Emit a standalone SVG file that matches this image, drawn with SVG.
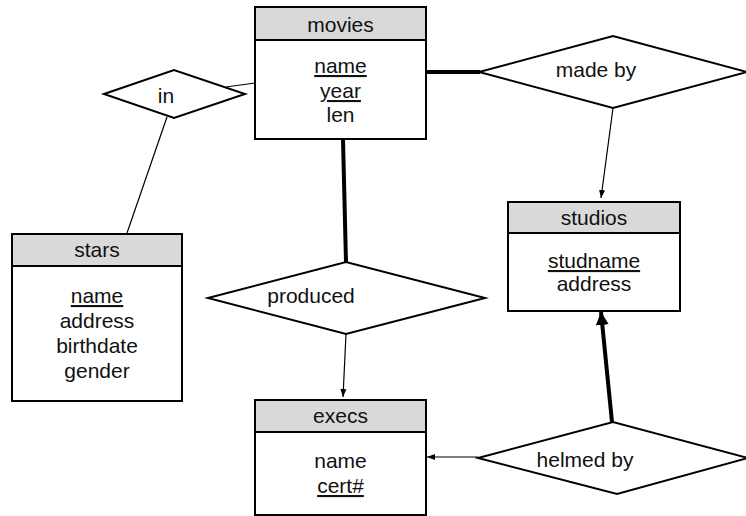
<svg xmlns="http://www.w3.org/2000/svg" width="746" height="516" viewBox="0 0 746 516">
  <style>
    .box { fill: #ffffff; stroke: #000000; stroke-width: 2; }
    .head { fill: #d9d9d9; stroke: #000000; stroke-width: 2; }
    .rel { fill: #ffffff; stroke: #000000; stroke-width: 2; }
    text { font-family: "Liberation Sans", Arial, sans-serif; font-size: 21px; fill: #111111; text-anchor: middle; }
    .key { text-decoration: underline; }
    .thin { stroke: #000000; stroke-width: 1.2; fill: none; }
    .thick { stroke: #000000; stroke-width: 4; fill: none; }
  </style>
  <defs>
    <marker id="arrowSmall" markerUnits="userSpaceOnUse" markerWidth="8" markerHeight="8" viewBox="0 0 8 8" refX="8" refY="4" orient="auto">
      <path d="M0,1 L8,4 L0,7 Z" fill="#000000"/>
    </marker>
    <marker id="arrowBig" markerUnits="userSpaceOnUse" markerWidth="14" markerHeight="14" viewBox="0 0 14 14" refX="13" refY="7" orient="auto">
      <path d="M0,0.5 L13,7 L0,13.5 Z" fill="#000000"/>
    </marker>
  </defs>

  <!-- connectors -->
  <g id="connectors">
    <line class="thin" x1="226" y1="87" x2="255" y2="83"/>
    <line class="thin" x1="167" y1="117" x2="127" y2="233"/>
    <line class="thick" x1="426" y1="72" x2="480" y2="72"/>
    <line class="thin" x1="613" y1="108" x2="601" y2="198" marker-end="url(#arrowSmall)"/>
    <line class="thick" x1="343" y1="140" x2="346" y2="262"/>
    <line class="thin" x1="346" y1="334" x2="343" y2="397" marker-end="url(#arrowSmall)"/>
    <line class="thin" x1="478" y1="457" x2="427" y2="457" marker-end="url(#arrowSmall)"/>
    <line class="thick" x1="612" y1="422" x2="601" y2="312" marker-end="url(#arrowBig)"/>
  </g>

  <!-- entity: movies -->
  <g id="movies">
    <rect class="box" x="255" y="7" width="171" height="132"/>
    <rect class="head" x="255" y="7" width="171" height="33"/>
    <text x="340.5" y="32">movies</text>
    <text class="key" x="340.5" y="73">name</text>
    <text class="key" x="340.5" y="98">year</text>
    <text x="340.5" y="122">len</text>
  </g>

  <!-- entity: stars -->
  <g id="stars">
    <rect class="box" x="12" y="234" width="170" height="167"/>
    <rect class="head" x="12" y="234" width="170" height="32"/>
    <text x="97" y="257">stars</text>
    <text class="key" x="97" y="303">name</text>
    <text x="97" y="328">address</text>
    <text x="97" y="353">birthdate</text>
    <text x="97" y="378">gender</text>
  </g>

  <!-- entity: studios -->
  <g id="studios">
    <rect class="box" x="508" y="202" width="172" height="109"/>
    <rect class="head" x="508" y="202" width="172" height="31"/>
    <text x="594" y="225">studios</text>
    <text class="key" x="594" y="268">studname</text>
    <text x="594" y="291">address</text>
  </g>

  <!-- entity: execs -->
  <g id="execs">
    <rect class="box" x="255" y="400" width="171" height="115"/>
    <rect class="head" x="255" y="400" width="171" height="32"/>
    <text x="340.5" y="423">execs</text>
    <text x="340.5" y="468">name</text>
    <text class="key" x="340.5" y="493">cert#</text>
  </g>

  <!-- relationship: in -->
  <g id="in">
    <polygon class="rel" points="104,94 174,70 245,94 174,118"/>
    <text x="166" y="103">in</text>
  </g>

  <!-- relationship: made by -->
  <g id="made-by">
    <polygon class="rel" points="479,72 613,36 747,72 613,108"/>
    <text x="596" y="77">made by</text>
  </g>

  <!-- relationship: produced -->
  <g id="produced">
    <polygon class="rel" points="208,298 346,262 485,298 346,334"/>
    <text x="311" y="303">produced</text>
  </g>

  <!-- relationship: helmed by -->
  <g id="helmed-by">
    <polygon class="rel" points="478,458 613,422 748,458 617,494"/>
    <text x="585" y="467">helmed by</text>
  </g>
</svg>
